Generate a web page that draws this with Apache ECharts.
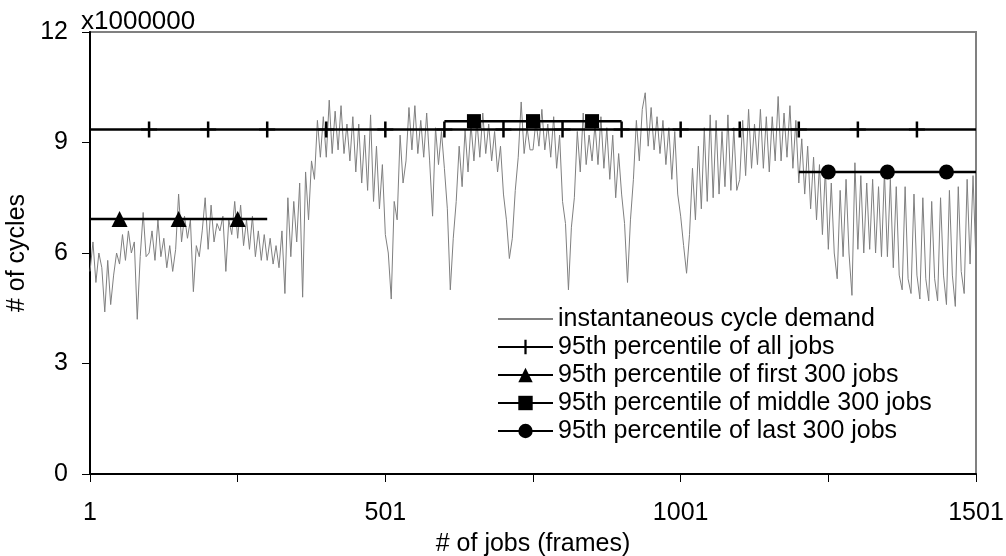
<!DOCTYPE html>
<html>
<head>
<meta charset="utf-8">
<script src="https://cdn.jsdelivr.net/npm/echarts@6.0.0/dist/echarts.min.js"></script>
<style>
  html, body { margin: 0; padding: 0; background: #fff; }
  #chart { width: 1006px; height: 556px; }
</style>
</head>
<body>
<div id="chart"></div>
<script>
// instantaneous demand, one reading every 5 jobs (job 1, 6, 11 ... 1501), in millions of cycles
const demandStep = 5;
const demand = [
  5.5, 6.3, 5.2, 6.0, 5.6, 4.4, 5.8, 4.6, 5.4, 6.0,
  5.7, 6.5, 5.8, 6.6, 6.0, 6.3, 4.2, 5.9, 7.1, 5.9,
  6.0, 6.6, 5.8, 6.9, 5.9, 6.4, 5.6, 6.2, 5.5, 6.1,
  7.6, 6.3, 7.0, 6.4, 6.9, 4.95, 6.2, 5.9, 6.6, 7.5,
  6.1, 7.3, 6.3, 6.8, 6.6, 7.0, 5.5, 6.9, 6.5, 7.4,
  6.4, 7.3, 6.2, 6.9, 6.1, 7.0, 5.9, 6.6, 5.8, 6.5,
  5.8, 6.4, 5.7, 6.2, 5.6, 6.6, 4.9, 7.5, 5.9, 7.4,
  6.3, 7.9, 4.8, 8.2, 6.9, 8.5, 8.0, 9.6, 8.6, 9.7,
  8.6, 10.15, 8.7, 9.85, 8.8, 10.0, 8.7, 9.5, 8.5, 9.7,
  8.2, 9.5, 7.9, 9.2, 7.7, 9.75, 7.4, 8.9, 7.2, 8.4,
  6.5, 6.0, 4.75, 7.4, 6.9, 9.2, 7.9, 8.5, 9.95, 8.8,
  10.0, 8.7, 9.6, 8.6, 9.8, 8.5, 7.0, 9.4, 8.4, 9.3,
  8.3, 7.2, 5.0, 6.4, 7.4, 8.9, 7.8, 9.35, 8.2, 9.5,
  8.5, 9.6, 8.6, 9.8, 8.7, 9.5, 8.5, 9.3, 8.2, 8.9,
  7.6, 6.9, 5.85, 6.4, 7.7, 8.6, 10.1, 8.7, 9.4, 8.8,
  8.8, 9.6, 8.9, 9.9, 8.8, 9.5, 8.6, 9.7, 8.3, 9.2,
  7.4, 6.8, 5.0, 6.7, 7.5, 9.3, 8.2, 9.8, 8.4, 9.2,
  8.5, 9.5, 8.4, 9.7, 8.3, 9.4, 8.0, 9.2, 7.5, 8.7,
  7.6, 6.8, 5.2, 6.9, 8.0, 9.6, 8.5, 9.9, 10.35, 8.9,
  9.95, 8.8, 9.7, 8.7, 9.6, 8.4, 9.4, 8.0, 9.3, 7.6,
  7.0, 6.2, 5.45, 6.5, 8.3, 6.9, 8.9, 7.2, 9.4, 7.4,
  9.75, 7.5, 9.6, 7.6, 9.3, 7.8, 9.75, 7.7, 9.4, 7.7,
  8.0, 9.6, 8.1, 9.9, 8.3, 9.5, 8.4, 9.9, 8.3, 9.7,
  8.2, 9.7, 8.5, 10.25, 8.5, 9.8, 8.6, 10.0, 8.3, 9.6,
  7.9, 9.1, 7.6, 8.9, 7.2, 8.6, 6.9, 8.4, 6.5, 8.3,
  6.1, 7.9, 6.0, 5.3, 7.7, 5.9, 8.0, 6.0, 4.85, 8.45,
  6.1, 8.1, 6.0, 7.9, 6.1, 8.0, 6.0, 7.8, 5.9, 8.2,
  5.9, 8.0, 5.6, 7.8, 5.4, 5.0, 7.8, 5.3, 4.9, 7.6,
  5.4, 4.75, 7.5, 5.3, 4.7, 7.4, 5.3, 4.7, 7.5, 5.4,
  4.6, 7.7, 5.4, 4.55, 7.8, 5.5, 4.9, 8.0, 5.7, 8.1,
  5.7
];

// 95th percentile lines: [first job, last job], marker jobs, level
const allSpan = [1, 1501];
const allMarks = [101, 201, 301, 401, 501, 601, 701, 801, 901, 1001, 1101, 1201, 1301, 1401];
const allP95 = 9.35;

const firstSpan = [1, 301];
const firstMarks = [51, 151, 251];
const firstP95 = 6.92;

const middleSpan = [601, 901];
const middleMarks = [651, 751, 851];
const middleP95 = 9.58;

const lastSpan = [1201, 1501];
const lastMarks = [1251, 1351, 1451];
const lastP95 = 8.2;

const xTicks = [1, 501, 1001, 1501];
const yTicks = [0, 3, 6, 9, 12];

const FONT = 'Liberation Sans, Arial, sans-serif';
const plusSymbol = 'path://M6.75,0H9.25V16H6.75Z M0,7H16V9H0Z';

function percentile(name, span, marks, level, symbol, size) {
    const pts = [{ value: [span[0] - 1, level], symbol: 'none' }];
    marks.forEach(j => pts.push({ value: [j - 1, level] }));
    pts.push({ value: [span[1] - 1, level], symbol: 'none' });
    return {
        name: name,
        type: 'line',
        data: pts,
        symbol: symbol,
        symbolSize: size,
        showAllSymbol: true,
        lineStyle: { color: '#000', width: 2.5 },
        itemStyle: { color: '#000', borderWidth: 0 },
        emphasis: { disabled: true },
        z: 3
    };
}

const chart = echarts.init(document.getElementById('chart'));
chart.setOption({
    animation: false,
    backgroundColor: '#fff',
    grid: {
        left: 90, right: 30, top: 32, bottom: 82,
        containLabel: false,
        outerBoundsMode: 'none',
        show: true, borderColor: '#808080', borderWidth: 2
    },
    graphic: [{
        type: 'text', left: 81, top: 9,
        style: { text: 'x1000000', font: '26px ' + FONT, fill: '#000' }
    }],
    legend: {
        orient: 'vertical',
        left: 497, top: 305,
        padding: 0,
        itemGap: 0,
        itemWidth: 55,
        itemHeight: 18,
        textStyle: { fontFamily: FONT, fontSize: 25, lineHeight: 28, color: '#000' },
        data: [
            { name: 'instantaneous cycle demand', itemStyle: { opacity: 0 } },
            '95th percentile of all jobs',
            '95th percentile of first 300 jobs',
            '95th percentile of middle 300 jobs',
            '95th percentile of last 300 jobs'
        ]
    },
    xAxis: {
        type: 'value',
        min: 0, max: 1500, interval: 250,
        name: '# of jobs (frames)',
        nameLocation: 'middle',
        nameGap: 58,
        nameTextStyle: { fontFamily: FONT, fontSize: 25, color: '#000' },
        axisLine: { lineStyle: { color: '#000', width: 2 } },
        axisTick: { length: 8, lineStyle: { color: '#000', width: 1 } },
        axisLabel: {
            margin: 27,
            fontFamily: FONT, fontSize: 25, color: '#000',
            formatter: v => xTicks.indexOf(v + 1) >= 0 ? String(v + 1) : ''
        },
        splitLine: { show: false }
    },
    yAxis: {
        type: 'value',
        min: yTicks[0], max: yTicks[yTicks.length - 1], interval: 3,
        name: '# of cycles',
        nameLocation: 'middle',
        nameRotate: 90,
        nameGap: 55,
        nameTextStyle: { fontFamily: FONT, fontSize: 25, color: '#000' },
        axisLine: { show: true, lineStyle: { color: '#000', width: 2 } },
        axisTick: { show: true, length: 8, lineStyle: { color: '#000', width: 1 } },
        axisLabel: { margin: 22, fontFamily: FONT, fontSize: 25, color: '#000' },
        splitLine: { show: false }
    },
    series: [
        {
            name: 'instantaneous cycle demand',
            type: 'line',
            data: demand.map((v, i) => [i * demandStep, v]),
            showSymbol: false,
            symbol: 'circle',
            lineStyle: { color: '#808080', width: 1 },
            itemStyle: { color: '#808080' },
            emphasis: { disabled: true },
            z: 2
        },
        percentile('95th percentile of all jobs', allSpan, allMarks, allP95, plusSymbol, 16),
        percentile('95th percentile of first 300 jobs', firstSpan, firstMarks, firstP95, 'triangle', 16),
        percentile('95th percentile of middle 300 jobs', middleSpan, middleMarks, middleP95, 'rect', 14),
        percentile('95th percentile of last 300 jobs', lastSpan, lastMarks, lastP95, 'circle', 15)
    ]
});
</script>
</body>
</html>
